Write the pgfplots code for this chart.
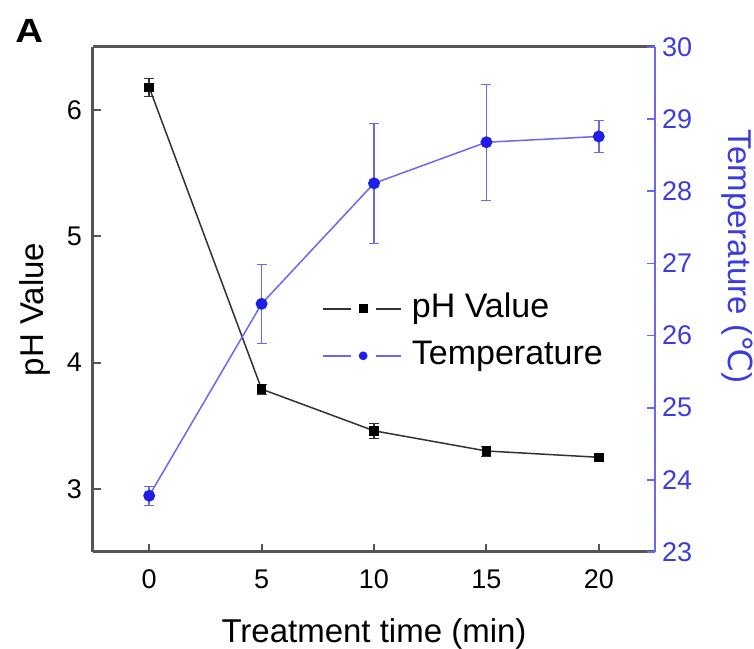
\documentclass[border=0pt]{standalone}
\usepackage{fontspec}
\setmainfont{Liberation Sans}
\newfontfamily\dejavu{DejaVu Sans}
\usepackage{graphicx}
\usepackage{pgfplots}
\usepackage{pgfplotstable}
\pgfplotsset{compat=1.18}
\usetikzlibrary{calc}
\definecolor{tblue}{RGB}{30,30,230}
\definecolor{tline}{RGB}{105,105,240}
\definecolor{tlabel}{RGB}{60,60,220}
\definecolor{axgray}{RGB}{85,85,85}
\definecolor{phline}{RGB}{50,50,50}

\pgfplotstableread{
x y e
0 6.18 0.07
5 3.79 0.04
10 3.46 0.06
15 3.30 0.04
20 3.25 0.03
}\phdata
\pgfplotstableread{
x y e
0 23.78 0.13
5 26.44 0.55
10 28.11 0.83
15 28.68 0.80
20 28.76 0.22
}\tdata

\begin{document}
\begin{tikzpicture}
\pgfplotsset{
  common/.style={scale only axis, width=281pt, height=252.5pt, xmin=-2.5, xmax=22.5,
    /pgf/number format/assume math mode=true,
    tick label style={font=\fontsize{13.5}{15}\selectfont},
    label style={font=\fontsize{16.5}{19}\selectfont},
    tick align=inside, major tick length=4pt},
  phstyle/.style={color=phline, line width=0.75pt, mark=square*, mark size=2pt,
    mark options={black, solid}},
  tstyle/.style={color=tline, line width=0.75pt, mark=*, mark size=2.6pt,
    mark options={tblue, solid}},
}
\begin{axis}[common, name=ax,
  axis y line*=left,
  ymin=2.5, ymax=6.5, ytick={3,4,5,6},
  xtick={0,5,10,15,20}, xtick pos=bottom,
  axis line style={line width=1.5pt, axgray},
  tick style={line width=1pt, axgray},
  xticklabel style={yshift=-5.5pt},
  yticklabel style={xshift=-2pt},
  ylabel={pH Value},
  ylabel style={at={(rel axis cs:-0.103,0.48)}, anchor=center},
  xlabel={Treatment time (min)},
  xlabel style={at={(rel axis cs:0.5,0)}, anchor=base, yshift=-45.5pt},
]
\addplot[phstyle, error bars/.cd, y dir=both, y explicit,
  error bar style={line width=0.75pt, phline},
  error mark options={rotate=90, mark size=2.5pt, phline}]
  table[x=x, y=y, y error=e]{\phdata};
\end{axis}
\begin{axis}[common,
  axis y line*=right, axis x line=none,
  ymin=23, ymax=30, ytick={23,24,25,26,27,28,29,30},
  y axis line style={line width=0.9pt, tline},
  ytick style={tline, line width=0.8pt},
  yticklabel style={tlabel},
  ylabel={Temperature ({\dejavu ℃})},
  ylabel style={tlabel, at={(rel axis cs:1.146,0.585)}, anchor=center, rotate=180},
  legend style={at={(rel axis cs:0.4075,0.435)}, anchor=west, draw=none, fill=none,
    inner sep=0pt, row sep=8pt, column sep=5pt,
    font=\fontsize{17}{19}\selectfont,
    nodes={inner sep=0pt, text height=12pt, text depth=3.5pt}},
  legend cell align=left,
  legend image code/.code={
    \draw[#1, mark=none] (0pt,0pt) -- (14pt,0pt) (26.5pt,0pt) -- (39pt,0pt);
    \draw[#1, only marks, mark size=1.8pt] plot coordinates {(20pt,0pt)};
  },
]
\addlegendimage{phstyle, mark size=1.3pt}
\addlegendentry{pH Value}
\addplot[tstyle, error bars/.cd, y dir=both, y explicit,
  error bar style={line width=0.75pt, tline},
  error mark options={rotate=90, mark size=2.5pt, tline}]
  table[x=x, y=y, y error=e]{\tdata};
\addlegendentry{Temperature}
\end{axis}
\node[anchor=base west, inner sep=0pt, font=\fontsize{16}{18}\selectfont\bfseries]
  at ($(ax.north west)+(-39pt,2pt)$) {\scalebox{1.2}[1.05]{A}};
\pgfresetboundingbox
\path[use as bounding box] ($(ax.south west)+(-46.5pt,-48.5pt)$) rectangle ($(ax.north east)+(49.5pt,23.5pt)$);
\end{tikzpicture}
\end{document}
